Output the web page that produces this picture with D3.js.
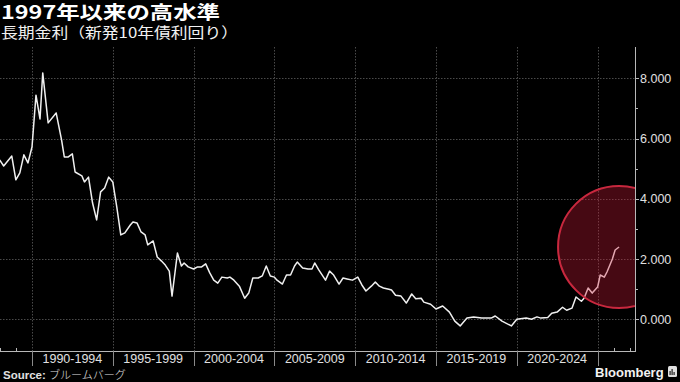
<!DOCTYPE html>
<html>
<head>
<meta charset="utf-8">
<script src="https://cdn.jsdelivr.net/npm/d3@7"></script>
<style>
  html, body { margin: 0; padding: 0; background: #000; }
  svg { display: block; }
</style>
</head>
<body>
<svg id="chart" width="680" height="382"></svg>
<script>
"use strict";

// 長期金利（新発10年債利回り）, %
const dates = [
  "1988-01", "1988-04", "1988-10", "1989-01", "1989-04", "1989-07", "1989-10",
  "1990-01", "1990-04", "1990-07", "1990-09", "1991-01", "1991-07", "1991-11",
  "1992-01", "1992-04", "1992-07", "1992-09", "1993-02", "1993-04", "1993-07", "1993-10",
  "1994-01", "1994-04", "1994-07", "1994-10", "1995-01", "1995-04", "1995-07", "1995-10",
  "1996-02", "1996-04", "1996-07", "1996-10", "1997-01", "1997-03", "1997-07", "1997-10",
  "1998-01", "1998-04", "1998-07", "1998-09", "1999-01", "1999-04", "1999-06", "1999-09",
  "2000-01", "2000-04", "2000-07", "2000-10", "2001-01", "2001-04", "2001-07", "2001-10",
  "2002-02", "2002-04", "2002-07", "2002-11", "2003-03", "2003-06", "2003-09",
  "2004-01", "2004-04", "2004-07", "2004-10", "2005-01", "2005-03", "2005-07", "2005-10",
  "2006-01", "2006-04", "2006-06", "2006-10", "2007-02", "2007-05", "2007-07", "2007-10",
  "2008-03", "2008-06", "2008-09", "2009-01", "2009-04", "2009-07", "2009-11",
  "2010-03", "2010-06", "2010-09", "2011-01", "2011-04", "2011-07", "2011-10",
  "2012-02", "2012-04", "2012-07", "2012-11", "2013-03", "2013-07", "2013-10",
  "2014-02", "2014-04", "2014-09", "2015-01", "2015-06", "2015-11",
  "2016-03", "2016-07", "2016-12", "2017-05", "2017-11", "2018-06", "2018-09",
  "2019-02", "2019-09", "2020-01", "2020-08", "2020-12", "2021-04", "2021-07", "2021-12",
  "2022-03", "2022-07", "2022-11", "2023-02", "2023-06", "2023-09",
  "2024-01", "2024-03", "2024-06", "2024-09", "2025-01", "2025-03", "2025-06", "2025-08",
  "2025-12", "2026-02", "2026-05"
];
const yields = [
  5.29, 5.09, 5.42, 4.63, 4.86, 5.46, 5.19,
  5.72, 7.44, 6.65, 8.18, 6.52, 6.85, 5.95,
  5.39, 5.39, 5.49, 4.89, 4.76, 4.56, 4.72, 3.86,
  3.30, 4.23, 4.36, 4.72, 4.56, 3.73, 2.80, 2.87,
  3.13, 3.23, 3.20, 2.90, 2.80, 2.47, 2.60, 2.07,
  1.94, 1.80, 1.60, 0.77, 2.20, 1.77, 1.87, 1.74,
  1.67, 1.74, 1.74, 1.84, 1.54, 1.30, 1.20, 1.40,
  1.37, 1.40, 1.30, 1.10, 0.70, 0.87, 1.37,
  1.37, 1.44, 1.77, 1.44, 1.40, 1.30, 1.17, 1.47,
  1.47, 1.77, 1.90, 1.70, 1.67, 1.67, 1.87, 1.64,
  1.30, 1.60, 1.47, 1.17, 1.37, 1.34, 1.30,
  1.40, 1.14, 0.94, 1.10, 1.24, 1.10, 1.04,
  1.00, 0.97, 0.80, 0.77, 0.54, 0.84, 0.68,
  0.70, 0.57, 0.50, 0.34, 0.44, 0.24,
  -0.06, -0.22, 0.04, 0.08, 0.04, 0.04, 0.11,
  -0.06, -0.22, 0.00, 0.04, 0.00, 0.08, 0.04, 0.06,
  0.20, 0.24, 0.40, 0.30, 0.37, 0.74,
  0.60, 0.70, 1.04, 0.87, 1.07, 1.47, 1.40, 1.57,
  2.00, 2.30, 2.40
];

const periodStarts = [1990, 1995, 2000, 2005, 2010, 2015, 2020, 2025];
const periodLabels = ["1990-1994", "1995-1999", "2000-2004", "2005-2009", "2010-2014", "2015-2019", "2020-2024"];
const minorYears = [1988, 1989, 2026, 2027];
const yTicks = [0, 2, 4, 6, 8];
const yMinorTicks = [1, 3, 5, 7];

const width = 680;
const plotTop = 47;
const axisX = 635;
const baseY = 351;

const parse = d3.timeParse("%Y-%m");
const series = dates.map((d, i) => ({ date: parse(d), value: yields[i] }));
const yearDate = y => new Date(y, 0, 1);

const svg = d3.select("#chart");
svg.append("rect").attr("width", width).attr("height", 382).attr("fill", "#000");

const xScale = d3.scaleTime()
  .domain([yearDate(1990), yearDate(2025)])
  .range([32, 597.6]);
const yScale = d3.scaleLinear()
  .domain([0, 8])
  .range([319.3, 78.3]);

svg.append("clipPath").attr("id", "plot-clip")
  .append("rect").attr("x", 0).attr("y", 0).attr("width", axisX).attr("height", baseY);

// gridlines
svg.append("g")
  .selectAll("line")
  .data(yTicks)
  .enter()
  .append("line")
  .attr("x1", 0)
  .attr("x2", axisX)
  .attr("y1", d => Math.round(yScale(d)) + 0.5)
  .attr("y2", d => Math.round(yScale(d)) + 0.5)
  .attr("stroke", "#4a4a4a")
  .attr("stroke-dasharray", "1.5,1.5")
;

svg.append("g")
  .selectAll("line")
  .data(periodStarts)
  .enter()
  .append("line")
  .attr("x1", d => Math.round(xScale(yearDate(d))) + 0.5)
  .attr("x2", d => Math.round(xScale(yearDate(d))) + 0.5)
  .attr("y1", plotTop)
  .attr("y2", baseY)
  .attr("stroke", "#4a4a4a")
  .attr("stroke-dasharray", "1.5,1.5")
;

// line
const line = d3.line()
  .x(d => xScale(d.date))
  .y(d => yScale(d.value));

svg.append("path")
  .datum(series)
  .attr("clip-path", "url(#plot-clip)")
  .attr("fill", "none")
  .attr("stroke", "#f0f0f0")
  .attr("stroke-width", 1.5)
  .attr("stroke-linejoin", "round")
  .attr("d", line)
;

// highlight circle on the latest value
const last = series[series.length - 1];
svg.append("circle")
  .attr("clip-path", "url(#plot-clip)")
  .attr("cx", xScale(last.date))
  .attr("cy", yScale(last.value))
  .attr("r", 61)
  .attr("fill", "rgba(205, 25, 55, 0.34)")
  .attr("stroke", "#c8283e")
  .attr("stroke-width", 2)
;

// right axis
const axisColor = "#b8b8b8";
svg.append("line")
  .attr("x1", axisX + 0.5).attr("x2", axisX + 0.5)
  .attr("y1", plotTop).attr("y2", baseY)
  .attr("stroke", axisColor);

svg.append("g")
  .selectAll("line")
  .data(yTicks)
  .enter()
  .append("line")
  .attr("x1", axisX)
  .attr("x2", axisX + 4)
  .attr("y1", d => Math.round(yScale(d)) + 0.5)
  .attr("y2", d => Math.round(yScale(d)) + 0.5)
  .attr("stroke", axisColor)
;

svg.append("g")
  .selectAll("line")
  .data(yMinorTicks)
  .enter()
  .append("line")
  .attr("x1", axisX)
  .attr("x2", axisX + 3)
  .attr("y1", d => Math.round(yScale(d)) + 0.5)
  .attr("y2", d => Math.round(yScale(d)) + 0.5)
  .attr("stroke", axisColor)
;

svg.append("g")
  .selectAll("text")
  .data(yTicks)
  .enter()
  .append("text")
  .attr("x", axisX + 5)
  .attr("y", d => yScale(d) + 4.5)
  .attr("fill", "#e0e0e0")
  .attr("font-family", "'Liberation Sans', Arial, sans-serif")
  .attr("font-size", 12.5)
  .text(d3.format(".3f"))
;

// bottom axis
svg.append("line")
  .attr("x1", 0).attr("x2", axisX + 1)
  .attr("y1", baseY + 0.5).attr("y2", baseY + 0.5)
  .attr("stroke", axisColor);

svg.append("g")
  .selectAll("line")
  .data(periodStarts)
  .enter()
  .append("line")
  .attr("x1", d => Math.round(xScale(yearDate(d))) + 0.5)
  .attr("x2", d => Math.round(xScale(yearDate(d))) + 0.5)
  .attr("y1", baseY)
  .attr("y2", baseY + 15)
  .attr("stroke", "#8a8a8a")
;

svg.append("g")
  .selectAll("line")
  .data(minorYears)
  .enter()
  .append("line")
  .attr("x1", d => Math.round(xScale(yearDate(d))) + 0.5)
  .attr("x2", d => Math.round(xScale(yearDate(d))) + 0.5)
  .attr("y1", baseY - 3)
  .attr("y2", baseY)
  .attr("stroke", axisColor)
;

svg.append("g")
  .selectAll("text")
  .data(periodLabels)
  .enter()
  .append("text")
  .attr("x", (d, i) => (xScale(yearDate(periodStarts[i])) + xScale(yearDate(periodStarts[i + 1]))) / 2)
  .attr("y", 363)
  .attr("text-anchor", "middle")
  .attr("fill", "#e0e0e0")
  .attr("font-family", "'Liberation Sans', Arial, sans-serif")
  .attr("font-size", 12.5)
  .text(d => d)
;

// titles
svg.append("text")
  .attr("x", 1)
  .attr("y", 18.5)
  .attr("fill", "#fff")
  .attr("font-family", "'Noto Sans CJK JP', sans-serif")
  .attr("font-weight", "bold")
  .attr("font-size", 18.5)
  .attr("textLength", 219)
  .attr("lengthAdjust", "spacingAndGlyphs")
  .text("1997年以来の高水準");

svg.append("text")
  .attr("x", 1)
  .attr("y", 37.5)
  .attr("fill", "#f2f2f2")
  .attr("font-family", "'Noto Sans CJK JP', sans-serif")
  .attr("font-size", 14.5)
  .attr("textLength", 237)
  .attr("lengthAdjust", "spacingAndGlyphs")
  .text("長期金利（新発10年債利回り）");

// footer
const source = svg.append("text")
  .attr("x", 3)
  .attr("y", 378.5)
  .attr("fill", "#e0e0e0")
  .attr("font-size", 11.5);
source.append("tspan")
  .attr("font-family", "'Liberation Sans', Arial, sans-serif")
  .attr("font-weight", "bold")
  .text("Source: ");
source.append("tspan")
  .attr("font-family", "'Noto Sans CJK JP', sans-serif")
  .attr("font-weight", 300)
  .attr("font-size", 11)
  .text("ブルームバーグ");

svg.append("text")
  .attr("x", 595)
  .attr("y", 377)
  .attr("fill", "#f2f2f2")
  .attr("font-family", "'Liberation Sans', Arial, sans-serif")
  .attr("font-weight", "bold")
  .attr("font-size", 13)
  .text("Bloomberg");

const logo = svg.append("g").attr("transform", "translate(668,366)");
logo.append("rect")
  .attr("width", 9).attr("height", 11).attr("rx", 1.5)
  .attr("fill", "#e0e0e0");
logo.selectAll("rect.bar")
  .data([[2, 5, 4], [4, 3, 6], [6, 6, 3]])
  .enter()
  .append("rect")
  .attr("class", "bar")
  .attr("x", d => d[0] - 0.5)
  .attr("y", d => d[1])
  .attr("width", 1.2)
  .attr("height", d => d[2])
  .attr("fill", "#222");
</script>
</body>
</html>
